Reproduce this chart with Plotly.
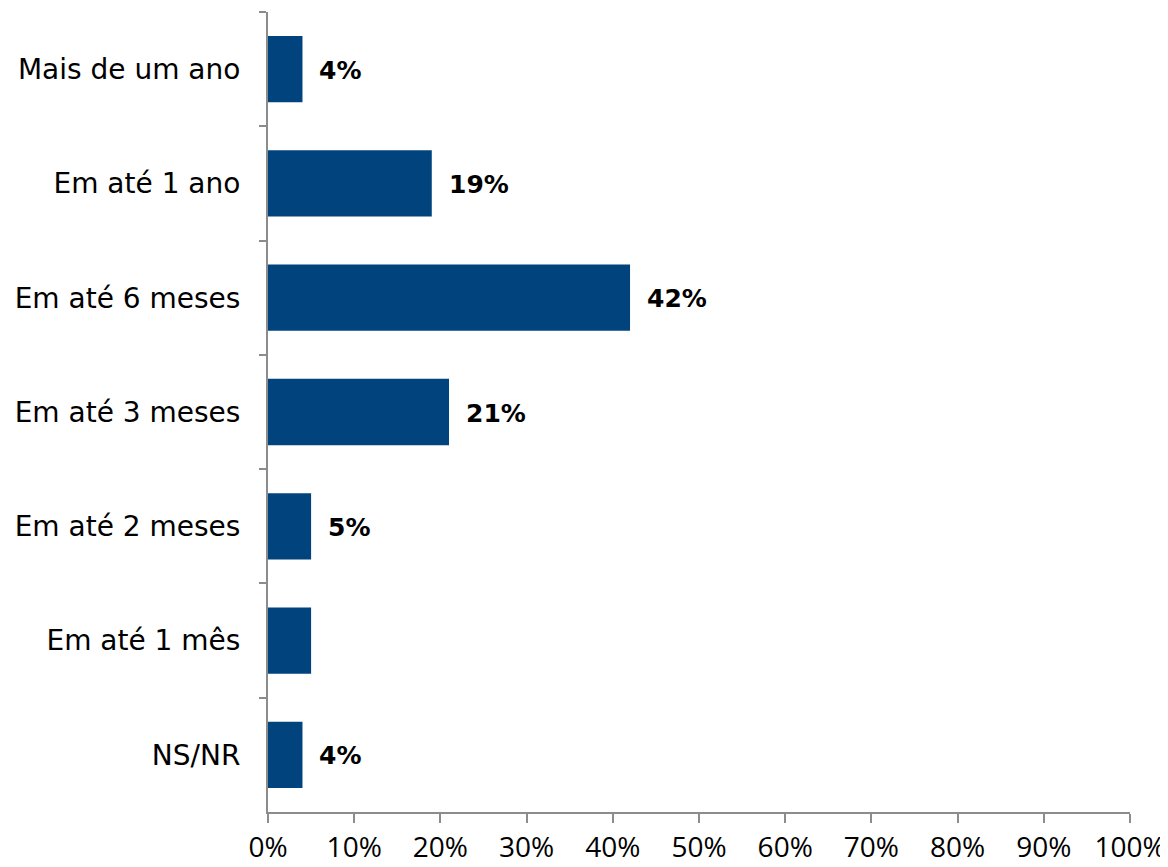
import plotly.graph_objects as go

categorias = ["Mais de um ano", "Em até 1 ano", "Em até 6 meses", "Em até 3 meses",
              "Em até 2 meses", "Em até 1 mês", "NS/NR"]
valores = [4, 19, 42, 21, 5, 5, 4]
rotulos = ["4%", "19%", "42%", "21%", "5%", "", "4%"]
ticks_x = [0, 10, 20, 30, 40, 50, 60, 70, 80, 90, 100]
ticks_x_txt = [f"{t}%" for t in ticks_x]

fig = go.Figure()
fig.add_trace(go.Bar(
    x=valores, y=categorias, orientation="h",
    marker=dict(color="#00437D", line=dict(width=0)),
    hoverinfo="x+y",
))

for cat, val, rot in zip(categorias, valores, rotulos):
    if rot:
        fig.add_annotation(
            x=val, y=cat, text=f"<b>{rot}</b>", showarrow=False,
            xanchor="left", xshift=15, yshift=-1,
            font=dict(family="DejaVu Sans", size=25, color="black"),
        )

fig.update_yaxes(
    type="category", autorange="reversed", tickson="boundaries",
    ticks="outside", ticklen=7, tickcolor="#8C8C8C", tickwidth=2,
    showline=True, linecolor="#8C8C8C", linewidth=2,
    showgrid=False, tickfont=dict(family="DejaVu Sans", size=28, color="black"),
    ticklabelstandoff=20, automargin=False,
)
fig.update_xaxes(
    range=[0, 100], tickvals=ticks_x, ticktext=ticks_x_txt,
    ticks="outside", ticklen=9, tickcolor="#8C8C8C", tickwidth=2,
    showline=True, linecolor="#8C8C8C", linewidth=2,
    showgrid=False, zeroline=False, automargin=False,
    tickfont=dict(family="Open Sans", size=28, color="black"),
)
# the page body has an 8px margin, so the figure is sized to fit the window
fig.update_layout(
    width=1160, height=859,
    bargap=0.42,
    plot_bgcolor="white", paper_bgcolor="white",
    margin=dict(l=260, r=38, t=4, b=55),
    showlegend=False,
)

fig.write_html("out.html")
